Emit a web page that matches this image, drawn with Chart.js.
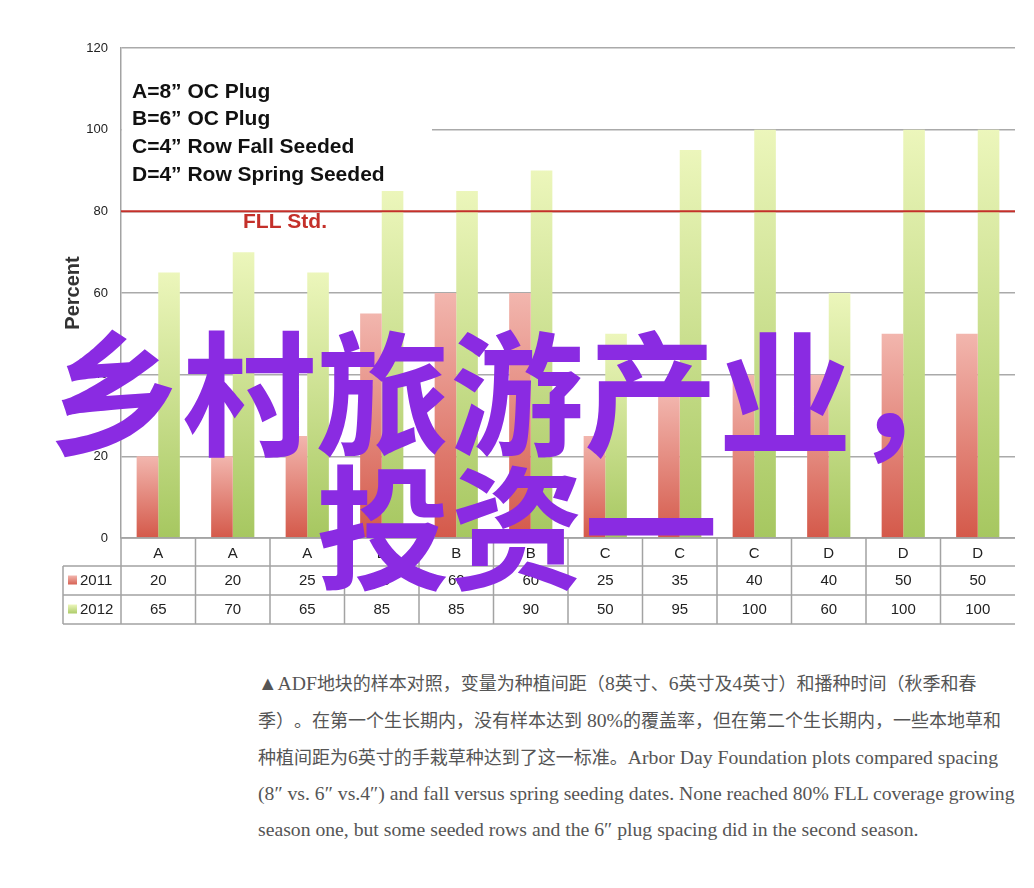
<!DOCTYPE html>
<html><head><meta charset="utf-8">
<script src="https://cdn.jsdelivr.net/npm/chart.js@4.4.1/dist/chart.umd.min.js"></script>
<style>
html,body{margin:0;padding:0;background:#fff;width:1034px;height:888px;overflow:hidden;position:relative;}
#c{position:absolute;left:0;top:0;}
#wm{position:absolute;left:0;top:320px;width:1034px;text-align:center;font-family:"Noto Sans CJK SC";font-weight:700;font-size:134px;line-height:134px;color:#8a2be2;white-space:nowrap;text-spacing-trim:space-all;}
#cap{position:absolute;left:258px;top:664px;font-family:"Liberation Serif","Noto Sans CJK SC",serif;font-size:19.7px;line-height:36px;color:#555;white-space:nowrap;text-spacing-trim:space-all;}
#cap .z{font-family:"Noto Sans CJK SC",sans-serif;font-size:18px;}
</style></head><body>
<canvas id="c" width="1034" height="640"></canvas>
<div id="cap">▲ADF<span class="z">地块的样本对照，变量为种植间距（</span>8<span class="z">英寸、</span>6<span class="z">英寸及</span>4<span class="z">英寸）和播种时间（秋季和春</span><br><span class="z">季）。在第一个生长期内，没有样本达到</span> 80%<span class="z">的覆盖率，但在第二个生长期内，一些本地草和</span><br><span class="z">种植间距为</span>6<span class="z">英寸的手栽草种达到了这一标准。</span>Arbor Day Foundation plots compared spacing<br>(8″ vs. 6″ vs.4″) and fall versus spring seeding dates. None reached 80% FLL coverage growing<br>season one, but some seeded rows and the 6″ plug spacing did in the second season.</div>
<div id="wm">乡村旅游产业，<br>投资一</div>
<script>
const categories = ['A','A','A','B','B','B','C','C','C','D','D','D'];
const values2011 = [20,20,25,55,60,60,25,35,40,40,50,50];
const values2012 = [65,70,65,85,85,90,50,95,100,60,100,100];
const seriesNames = ['2011','2012'];
const yMin = 0, yMax = 120, yStep = 20;
const fllStd = 80;
const fllLabel = 'FLL Std.';
const noteLines = ['A=8\u201D OC Plug','B=6\u201D OC Plug','C=4\u201D Row Fall Seeded','D=4\u201D Row Spring Seeded'];
const axisTitle = 'Percent';

const RED = ['#f2b6ae','#d4594a'];
const GREEN = ['#ecf6bb','#a6c760'];

function grad(cols){
  return (ctx) => {
    const chart = ctx.chart;
    if (!chart.chartArea || ctx.type !== 'data') return cols[1];
    const y = chart.scales.y;
    const y0 = y.getPixelForValue(0), y1 = y.getPixelForValue(ctx.raw);
    if (!isFinite(y1) || y0 - y1 < 1) return cols[1];
    const g = chart.ctx.createLinearGradient(0, y1, 0, y0);
    g.addColorStop(0, cols[0]); g.addColorStop(1, cols[1]);
    return g;
  };
}

const deco = {
  id: 'deco',
  beforeDatasetsDraw(chart){
    const {ctx, chartArea: ca} = chart;
    ctx.save();
    ctx.fillStyle = '#fff';
    ctx.fillRect(ca.left + 1, 64, 310, 128);
    ctx.fillStyle = '#111';
    ctx.font = 'bold 21px "Liberation Sans", Arial, sans-serif';
    ctx.textBaseline = 'middle';
    ctx.textAlign = 'left';
    noteLines.forEach((t, i) => ctx.fillText(t, ca.left + 11, 92 + i * 27.7));
    ctx.restore();
  },
  afterDatasetsDraw(chart){
    const {ctx, chartArea: ca, scales: {x, y}} = chart;
    ctx.save();
    const fy = y.getPixelForValue(fllStd);
    ctx.strokeStyle = '#c4302a'; ctx.lineWidth = 2;
    ctx.beginPath(); ctx.moveTo(ca.left, fy); ctx.lineTo(ca.right, fy); ctx.stroke();
    ctx.fillStyle = '#c4302a';
    ctx.font = 'bold 21px "Liberation Sans", Arial, sans-serif';
    ctx.textBaseline = 'middle'; ctx.textAlign = 'left';
    ctx.fillText(fllLabel, ca.left + 122, fy + 11);

    const b = ca.bottom;
    const r1 = b + 28, r2 = b + 57, r3 = b + 86;
    const tl = 63;
    ctx.strokeStyle = '#a3a3a3'; ctx.lineWidth = 1.5;
    ctx.beginPath();
    ctx.moveTo(ca.left, b); ctx.lineTo(ca.right, b);
    [r1, r2, r3].forEach(r => { ctx.moveTo(tl, r); ctx.lineTo(ca.right, r); });
    ctx.moveTo(tl, r1); ctx.lineTo(tl, r3);
    const n = categories.length;
    for (let i = 0; i < n; i++) {
      const bx = i === 0 ? ca.left : (x.getPixelForValue(i - 1) + x.getPixelForValue(i)) / 2;
      ctx.moveTo(bx, b); ctx.lineTo(bx, r3);
    }
    ctx.stroke();

    ctx.fillStyle = '#222';
    ctx.font = '15px "Liberation Sans", Arial, sans-serif';
    ctx.textAlign = 'center'; ctx.textBaseline = 'middle';
    for (let i = 0; i < n; i++) {
      const cx = x.getPixelForValue(i);
      ctx.fillText(String(values2011[i]), cx, (r1 + r2) / 2);
      ctx.fillText(String(values2012[i]), cx, (r2 + r3) / 2);
    }
    [[RED, (r1 + r2) / 2], [GREEN, (r2 + r3) / 2]].forEach(([cols, cy], k) => {
      const g = ctx.createLinearGradient(0, cy - 5, 0, cy + 5);
      g.addColorStop(0, cols[0]); g.addColorStop(1, cols[1]);
      ctx.fillStyle = g;
      ctx.fillRect(68, cy - 5, 9, 9);
      ctx.fillStyle = '#222';
      ctx.textAlign = 'left';
      ctx.fillText(seriesNames[k], 80, cy);
    });
    ctx.restore();
  }
};

new Chart(document.getElementById('c'), {
  type: 'bar',
  data: {
    labels: categories,
    datasets: [
      {label: seriesNames[0], data: values2011, backgroundColor: grad(RED), borderWidth: 0, barPercentage: 1, categoryPercentage: 0.58},
      {label: seriesNames[1], data: values2012, backgroundColor: grad(GREEN), borderWidth: 0, barPercentage: 1, categoryPercentage: 0.58}
    ]
  },
  options: {
    responsive: false,
    animation: false,
    devicePixelRatio: 1,
    layout: {padding: {left: 0, right: 19, top: 48, bottom: 0}},
    plugins: {legend: {display: false}, tooltip: {enabled: false}},
    scales: {
      x: {
        grid: {display: false, drawTicks: false},
        border: {display: false},
        ticks: {color: '#222', font: {family: '"Liberation Sans", Arial, sans-serif', size: 15}, padding: 7, maxRotation: 0, autoSkip: false},
        afterFit(s){ s.height = 102; }
      },
      y: {
        min: yMin, max: yMax,
        ticks: {stepSize: yStep, color: '#222', font: {family: '"Liberation Sans", Arial, sans-serif', size: 13}, padding: 13},
        grid: {color: '#aaaaaa', lineWidth: 1.5, drawTicks: false},
        border: {display: true, color: '#a3a3a3', width: 1.5},
        title: {display: true, text: axisTitle, color: '#333', font: {family: '"Liberation Sans", Arial, sans-serif', size: 20, weight: 'bold'}, padding: {top: 61, bottom: 0}},
        afterFit(s){ s.width = 121; }
      }
    }
  },
  plugins: [deco]
});
</script>
</body></html>
